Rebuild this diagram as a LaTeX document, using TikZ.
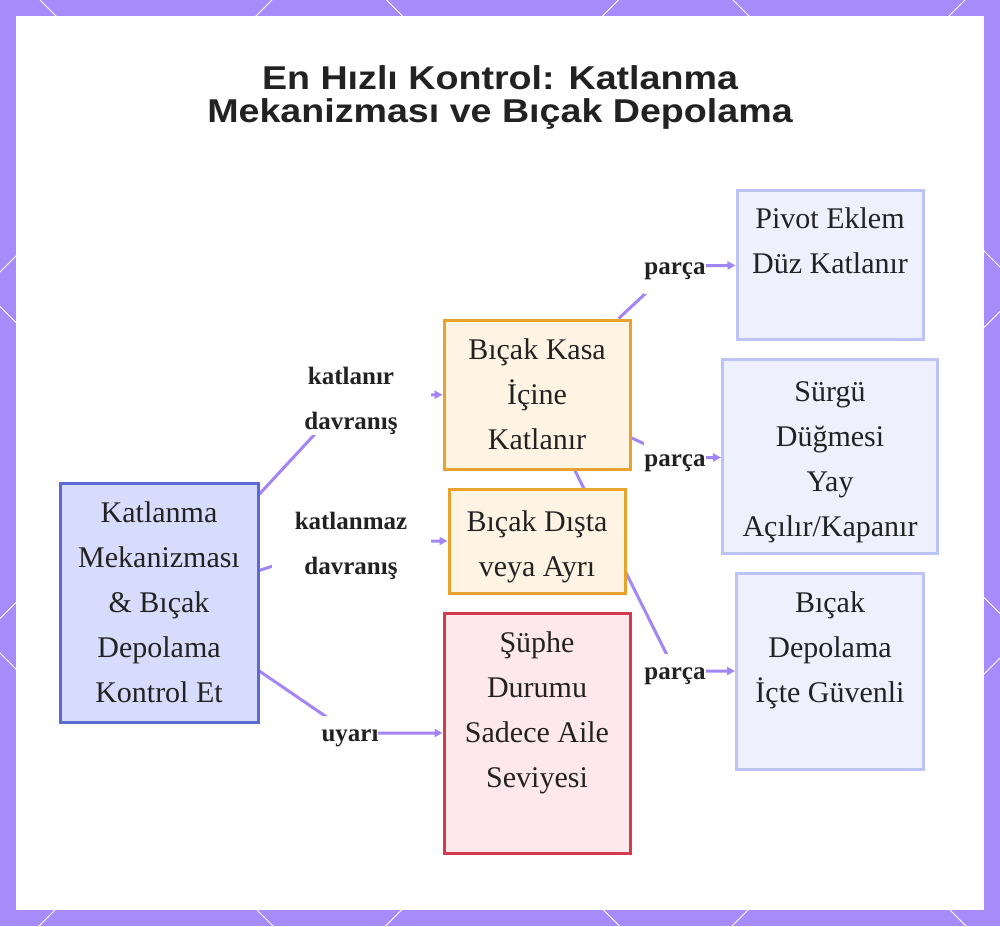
\documentclass[tikz,border=0pt]{standalone}
\usepackage{fontspec}
\setmainfont{Liberation Serif}
\newfontfamily\titlefont[FakeStretch=1.14]{Liberation Sans}
\usetikzlibrary{positioning, arrows.meta}

\definecolor{framepurple}{HTML}{A78BFA}
\definecolor{linkpurple}{HTML}{A385F5}
\definecolor{textdark}{HTML}{222222}
\definecolor{rootfill}{HTML}{D7DBFC}
\definecolor{rootdraw}{HTML}{5B6BD4}
\definecolor{foldfill}{HTML}{FFF4E3}
\definecolor{folddraw}{HTML}{E9A22B}
\definecolor{warnfill}{HTML}{FFE8EC}
\definecolor{warndraw}{HTML}{D23A4E}
\definecolor{partfill}{HTML}{EEF0FD}
\definecolor{partdraw}{HTML}{BCC4F7}

\pgfdeclarelayer{frame}
\pgfdeclarelayer{links}
\pgfsetlayers{frame,links,main}

\begin{document}
\begin{tikzpicture}[x=1pt, y=-1pt,
    box/.style={rectangle, line width=3pt, align=center, text=textdark, font=\fontsize{30}{45}\selectfont},
    rootbox/.style={box, draw=rootdraw, fill=rootfill},
    foldbox/.style={box, draw=folddraw, fill=foldfill},
    warnbox/.style={box, draw=warndraw, fill=warnfill},
    partbox/.style={box, draw=partdraw, fill=partfill},
    elabel/.style={fill=white, inner sep=0pt, minimum height=45pt, align=center, text=textdark, font=\bfseries\fontsize{25}{45}\selectfont},
    link/.style={line width=3pt, draw=linkpurple, -{Triangle[length=8pt,width=8pt]}},
    lattice/.style={draw=white, line width=0.8pt},
]
\useasboundingbox (0,0) rectangle (1000,926);

% Frame with lattice
\begin{pgfonlayer}{frame}
  \fill[framepurple] (0,0) rectangle (1000,926);
  \begin{scope}
    \clip (0,0) rectangle (1000,926);
    \foreach \c in {-653,-306.5,40,386.5,733}
      \draw[lattice] (\c,0) -- ++(1930,1930);
    \foreach \c in {272,618.5,965,1311.5,1658}
      \draw[lattice] (\c,0) -- ++(-1930,1930);
  \end{scope}
  \fill[white] (16,16) rectangle (984,910);
\end{pgfonlayer}

% Title
\node[text=textdark, font=\titlefont\bfseries\fontsize{33}{33}\selectfont, align=center] (title) at (500,97)
  {En Hızlı Kontrol: Katlanma\\Mekanizması ve Bıçak Depolama};

% Start block
\node[rootbox, minimum width=198pt, minimum height=239pt] (root) at (159,602.5)
  {Katlanma\\Mekanizması\\\& Bıçak\\Depolama\\Kontrol Et};

% Middle column
\node[foldbox, minimum width=186pt, minimum height=149pt] (kasa) at (537,394.5)
  {Bıçak Kasa\\İçine\\Katlanır};
\node[foldbox, minimum width=176pt, minimum height=104pt, below=17pt of kasa] (disari)
  {\strut Bıçak Dışta\\veya Ayrı};
\node[warnbox, minimum width=186pt, minimum height=240pt, below=17pt of disari] (suphe)
  {\strut Şüphe\\Durumu\\Sadece Aile\\Seviyesi\\\strut};

% Right column
\node[partbox, minimum width=186pt, minimum height=149pt] (pivot) at (830,264.5)
  {\strut Pivot Eklem\\Düz Katlanır\\\strut};
\node[partbox, minimum width=215pt, minimum height=194pt, below=17pt of pivot] (surgu)
  {\strut Sürgü\\Düğmesi\\Yay\\Açılır/Kapanır};
\node[partbox, minimum width=187pt, minimum height=196pt, below=17pt of surgu] (depo)
  {\strut Bıçak\\Depolama\\İçte Güvenli\\\strut};

% Bend points of the edges
\coordinate (bkatlanir) at (351,395);
\coordinate (bkatlanmaz) at (351,541);
\coordinate (buyari) at (350,733);
\coordinate (bparca1) at (675,266);
\coordinate (bparca2) at (675,458);
\coordinate (bparca3) at (675,671);

% Edge labels
\node[elabel, minimum width=159pt] (lkatlanir) at (351,401) {katlanır\\davranış};
\node[elabel, minimum width=159pt] (lkatlanmaz) at (351,546) {katlanmaz\\davranış};
\node[elabel] (luyari) at (350,738) {uyarı};
\node[elabel] (lparca1) at (675,271) {parça};
\node[elabel] (lparca2) at (675,463) {parça};
\node[elabel] (lparca3) at (675,676) {parça};

% Draw the arrows
\begin{pgfonlayer}{links}
  \draw[link] (root) -- (bkatlanir) -- (kasa);
  \draw[link] (root) -- (bkatlanmaz) -- (disari);
  \draw[link] (root) -- (buyari) -- (suphe);
  \draw[link] (kasa) -- (bparca1) -- (pivot);
  \draw[link] (kasa) -- (bparca2) -- (surgu);
  \draw[link] (kasa) -- (bparca3) -- (depo);
\end{pgfonlayer}

\end{tikzpicture}
\end{document}
